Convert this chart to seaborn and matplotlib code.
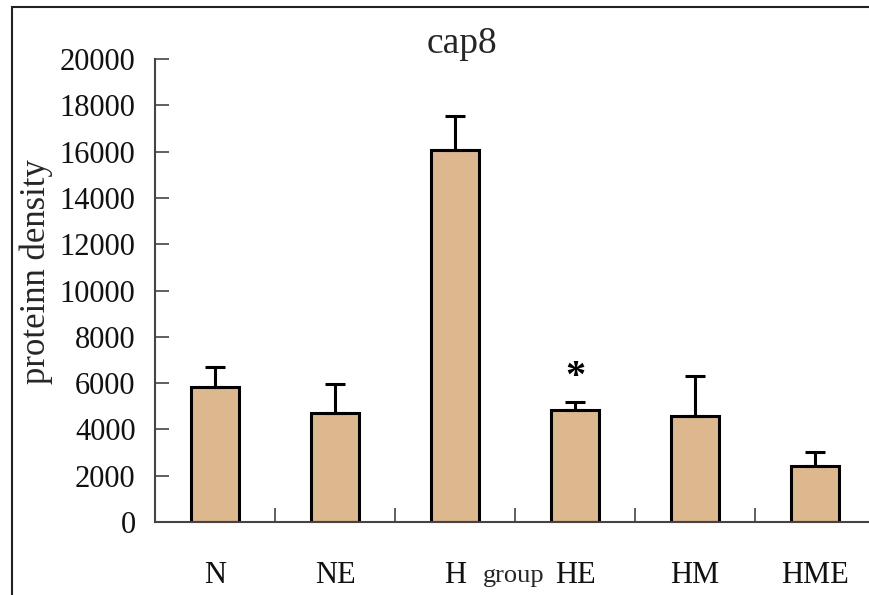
import matplotlib
matplotlib.use("Agg")
import matplotlib.pyplot as plt
import seaborn as sns
import pandas as pd
from matplotlib.patches import Rectangle

groups = ["N", "NE", "H", "HE", "HM", "HME"]
means = [5830, 4710, 16070, 4840, 4580, 2430]
errors = [870, 1250, 1470, 360, 1740, 610]
y_ticks = [0, 2000, 4000, 6000, 8000, 10000, 12000, 14000, 16000, 18000, 20000]

sns.set_theme(style="white")
plt.rcParams["font.family"] = ["Liberation Serif", "DejaVu Serif"]

fig = plt.figure(figsize=(8.7, 5.95), dpi=100)
ax = fig.add_axes([155 / 870, 1 - 522 / 595, 720 / 870, 463 / 595])

df = pd.DataFrame({"group": groups, "density": means})
sns.barplot(data=df, x="group", y="density", ax=ax, color="#DDB78E",
            width=0.405, edgecolor="black", linewidth=2.2, saturation=1)

xs = list(range(len(groups)))
ax.errorbar(xs, means, yerr=[[0] * len(errors), errors], fmt="none",
            ecolor="black", elinewidth=2.2, capsize=7.5, capthick=2.2, zorder=1)

# significance marker above HE
he = groups.index("HE")
ax.text(he, means[he] + errors[he] + 250, "*", ha="center", va="bottom",
        fontsize=29, fontweight="bold", color="black")

ax.set_xlim(-0.5, len(groups) - 0.5)
ax.set_ylim(0, 20000)
ax.set_yticks(y_ticks)
ax.set_yticklabels([str(v) for v in y_ticks], fontsize=22, color="#111111")
ax.tick_params(axis="y", direction="in", length=10, width=1.2, color="#444444",
               pad=14, left=True)
ax.set_xticks(xs)
ax.set_xticklabels(groups, fontsize=22, color="#111111")
ax.tick_params(axis="x", which="major", length=0, pad=28)
ax.set_xticks([i + 0.5 for i in range(len(groups))], minor=True)
ax.tick_params(axis="x", which="minor", direction="in", length=10, width=1.2,
               color="#444444", bottom=True)

for s in ["top", "right"]:
    ax.spines[s].set_visible(False)
for s in ["left", "bottom"]:
    ax.spines[s].set_color("#444444")
    ax.spines[s].set_linewidth(1.5)

ax.set_xlabel("")
ax.set_ylabel("proteinn density", fontsize=25, labelpad=14)
ax.yaxis.set_label_coords(-0.142, 0.54)

fig.text(514 / 870, 1 - 576 / 595, "group", ha="center", va="center", fontsize=19)
fig.text(462 / 870, 1 - 44 / 595, "cap8", ha="center", va="center", fontsize=27)

# outer frame (top and left visible)
fig.patches.append(Rectangle((12 / 870, -0.2), 1.2, (595 - 7) / 595 + 0.2,
                             transform=fig.transFigure, fill=False,
                             edgecolor="#222222", linewidth=1.5))

fig.savefig("out.png", dpi=100)
